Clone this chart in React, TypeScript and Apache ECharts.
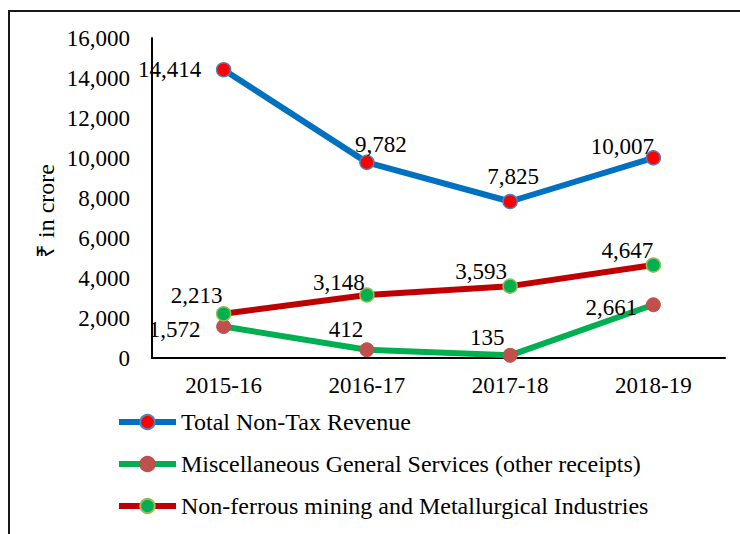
import React, { useEffect, useRef } from "react";
import * as echarts from "echarts";

const categories = ["2015-16", "2016-17", "2017-18", "2018-19"];
const totalNonTax = [14414, 9782, 7825, 10007];
const miscGeneral = [1572, 412, 135, 2661];
const nonFerrous = [2213, 3148, 3593, 4647];
const yTicks = { min: 0, max: 16000, interval: 2000 };

const seriesNames = [
  "Total Non-Tax Revenue",
  "Miscellaneous General Services (other receipts)",
  "Non-ferrous mining and Metallurgical Industries",
];

// label placement offsets (style only)
const totalOffsets = [[-54, 0], [14, -18], [3, -25], [-31, -11]];
const miscOffsets = [[-49, 3], [-21, -20], [-23, -18], [-42, 3]];
const nonFerrousOffsets = [[-27, -18], [-28, -13], [-29, -15], [-26, -15]];

const FONT = "'Liberation Serif', 'Times New Roman', serif";
const fmt = (v: number) => v.toLocaleString("en-US");

function withLabels(values: number[], offsets: number[][]) {
  return values.map((v, i) => ({
    value: v,
    label: {
      show: true,
      position: "inside",
      offset: offsets[i],
      formatter: () => fmt(v),
      fontSize: 23,
      fontFamily: FONT,
      color: "#000",
    },
  }));
}

export default function App() {
  const ref = useRef<HTMLDivElement>(null);
  useEffect(() => {
    if (!ref.current) return;
    const chart = echarts.init(ref.current, null, { renderer: "svg" });
    chart.setOption({
      animation: false,
      backgroundColor: "#fff",
      textStyle: { fontFamily: FONT },
      grid: { left: 152, right: 15, top: 38, bottom: 176, containLabel: false },
      xAxis: {
        type: "category",
        data: categories,
        boundaryGap: true,
        axisLine: { lineStyle: { color: "#000", width: 2 } },
        axisTick: { show: false },
        axisLabel: { fontSize: 23, fontFamily: FONT, color: "#000", margin: 16 },
      },
      yAxis: {
        type: "value",
        min: yTicks.min,
        max: yTicks.max,
        interval: yTicks.interval,
        axisLine: { show: true, lineStyle: { color: "#000", width: 2 } },
        axisTick: { show: false },
        splitLine: { show: false },
        axisLabel: {
          fontSize: 23,
          fontFamily: FONT,
          color: "#000",
          margin: 22,
          formatter: (v: number) => fmt(v),
        },
      },
      legend: {
        orient: "vertical",
        left: 116,
        top: 410,
        padding: 0,
        itemWidth: 57,
        itemHeight: 18,
        itemGap: 18,
        lineStyle: { width: 6 },
        textStyle: { fontSize: 24, fontFamily: FONT, color: "#000" },
        data: seriesNames,
      },
      graphic: [
        {
          type: "rect",
          shape: { x: 9, y: 11, width: 800, height: 600 },
          style: { fill: "none", stroke: "#1a1a1a", lineWidth: 2 },
          silent: true,
        },
        {
          type: "text",
          x: 46,
          y: 211,
          rotation: Math.PI / 2,
          style: {
            text: "₹ in crore",
            fontSize: 24,
            fontFamily: FONT,
            fill: "#000",
            align: "center",
            verticalAlign: "middle",
          },
        },
      ],
      series: [
        {
          name: seriesNames[0],
          type: "line",
          data: withLabels(totalNonTax, totalOffsets),
          symbol: "circle",
          symbolSize: 14,
          lineStyle: { color: "#0070C0", width: 6 },
          itemStyle: { color: "#FF0000", borderColor: "#4F81BD", borderWidth: 1.5 },
          z: 3,
        },
        {
          name: seriesNames[1],
          type: "line",
          data: withLabels(miscGeneral, miscOffsets),
          symbol: "circle",
          symbolSize: 14,
          lineStyle: { color: "#00B050", width: 6 },
          itemStyle: { color: "#C0504D", borderColor: "#C0504D", borderWidth: 1 },
          z: 2,
        },
        {
          name: seriesNames[2],
          type: "line",
          data: withLabels(nonFerrous, nonFerrousOffsets),
          symbol: "circle",
          symbolSize: 14,
          lineStyle: { color: "#C00000", width: 6 },
          itemStyle: { color: "#00B050", borderColor: "#9BBB59", borderWidth: 1.5 },
          z: 2,
        },
      ],
    });
    return () => chart.dispose();
  }, []);
  return (
    <div
      ref={ref}
      style={{ position: "fixed", left: 0, top: 0, width: 740, height: 534 }}
    />
  );
}
